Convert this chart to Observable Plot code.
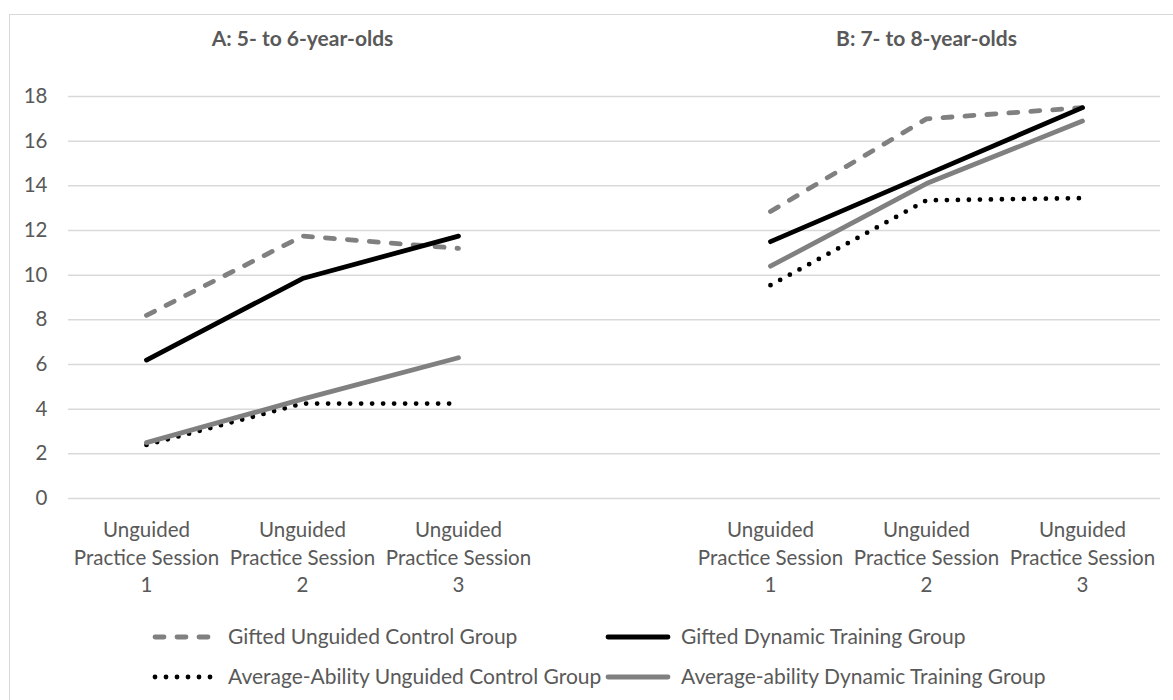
<!DOCTYPE html>
<html>
<head>
<meta charset="utf-8">
<script src="https://cdn.jsdelivr.net/npm/d3@7"></script>
<script src="https://cdn.jsdelivr.net/npm/@observablehq/plot@0.6"></script>
<style>
  html, body { margin: 0; padding: 0; background: #fff; overflow: hidden; }
  #wrap { position: relative; width: 1173px; height: 700px; font-family: Lato, "Open Sans", sans-serif; }
  #frame { position: absolute; left: 9px; top: 14px; width: 1200px; height: 720px; border: 1.5px solid #d9d9d9; box-sizing: border-box; pointer-events: none; }
  #chart, #legend { position: relative; }
</style>
</head>
<body>
<div id="wrap">
  <div id="frame"></div>
  <div id="chart"></div>
  <div id="legend"></div>
</div>
<script>
// ---- data ----
const panelTitles = ["A: 5- to 6-year-olds", "B: 7- to 8-year-olds"];
const panelKeys = ["A", "B"];
const sessionLabels = ["Unguided\nPractice Session\n1", "Unguided\nPractice Session\n2", "Unguided\nPractice Session\n3"];
const categories = ["A1", "A2", "A3", "gap", "B1", "B2", "B3"];
const yTicks = [0, 2, 4, 6, 8, 10, 12, 14, 16, 18];
const seriesNames = [
  "Gifted Unguided Control Group",
  "Gifted Dynamic Training Group",
  "Average-Ability Unguided Control Group",
  "Average-ability Dynamic Training Group"
];
// values per panel, sessions 1..3
const giftedUnguidedA = [8.2, 11.75, 11.2];
const giftedUnguidedB = [12.85, 17.0, 17.5];
const giftedDynamicA = [6.2, 9.85, 11.75];
const giftedDynamicB = [11.5, 14.5, 17.5];
const averageUnguidedA = [2.4, 4.25, 4.25];
const averageUnguidedB = [9.55, 13.35, 13.45];
const averageDynamicA = [2.5, 4.45, 6.3];
const averageDynamicB = [10.4, 14.1, 16.9];

const seriesValues = [
  [giftedUnguidedA, giftedUnguidedB],
  [giftedDynamicA, giftedDynamicB],
  [averageUnguidedA, averageUnguidedB],
  [averageDynamicA, averageDynamicB]
];

// ---- styles ----
const textColor = "#595959";
const gridColor = "#d9d9d9";
const fontFamily = "Lato, 'Open Sans', sans-serif";
const seriesStyles = [
  {stroke: "#808080", strokeWidth: 4.8, strokeDasharray: "9,13", strokeLinecap: "round"},
  {stroke: "#000000", strokeWidth: 4.8, strokeLinecap: "round"},
  {stroke: "#000000", strokeWidth: 4.8, strokeDasharray: "0,11", strokeLinecap: "round"},
  {stroke: "#808080", strokeWidth: 4.8, strokeLinecap: "round"}
];

// ---- table ----
const rows = [];
seriesNames.forEach((name, si) => {
  panelKeys.forEach((pk, pi) => {
    seriesValues[si][pi].forEach((v, k) => {
      rows.push({series: name, si, panel: pk, key: name + "|" + pk, cat: pk + (k + 1), value: v});
    });
  });
});
const tickRows = [];
panelKeys.forEach(pk => sessionLabels.forEach((lab, k) => tickRows.push({cat: pk + (k + 1), label: lab})));
const titleRows = panelKeys.map((pk, i) => ({cat: pk + "2", label: panelTitles[i]}));

const W = 1173, H = 610;
const plot = Plot.plot({
  width: W,
  height: H,
  marginTop: 96,
  marginBottom: 112,
  marginLeft: 68,
  marginRight: 13,
  style: {fontFamily, fontSize: "20px", color: textColor, background: "transparent", overflow: "visible"},
  x: {type: "point", domain: categories, padding: 0.5, axis: null},
  y: {domain: [0, 18], axis: null},
  marks: [
    Plot.gridY(yTicks, {stroke: gridColor, strokeOpacity: 1, strokeWidth: 1.5}),
    Plot.axisY(yTicks, {tickSize: 0, tickPadding: 21, fontSize: 20.5, fill: textColor, label: null}),
    Plot.text(tickRows, {x: "cat", text: "label", frameAnchor: "bottom", lineAnchor: "top", dy: 19, lineHeight: 1.35, fontSize: 20.5, fill: textColor}),
    Plot.text(titleRows, {x: "cat", text: "label", frameAnchor: "top", dy: -65, fontSize: 21, fontWeight: "bold", fill: textColor}),
    ...seriesStyles.map((st, si) =>
      Plot.line(rows.filter(d => d.si === si), {x: "cat", y: "value", z: "key", ...st, strokeLinejoin: "round"})
    )
  ]
});
document.getElementById("chart").appendChild(plot);

// ---- legend ----
const legendItems = [
  {si: 0, x: 153, row: 0},
  {si: 1, x: 606, row: 0},
  {si: 2, x: 153, row: 1},
  {si: 3, x: 606, row: 1}
];
const legend = d3.select("#legend").append("svg")
  .attr("width", W).attr("height", 90)
  .style("display", "block")
  .style("font-family", fontFamily);
legendItems.forEach(it => {
  const st = seriesStyles[it.si];
  const cy = 27 + it.row * 40;
  legend.append("line")
    .attr("x1", it.x + 2).attr("x2", it.x + 62)
    .attr("y1", cy).attr("y2", cy)
    .attr("stroke", st.stroke)
    .attr("stroke-width", st.strokeWidth)
    .attr("stroke-dasharray", st.strokeDasharray || null)
    .attr("stroke-linecap", st.strokeLinecap);
  legend.append("text")
    .attr("x", it.x + 75).attr("y", cy)
    .attr("dy", "0.35em")
    .attr("font-size", 21)
    .attr("fill", textColor)
    .text(seriesNames[it.si]);
});
</script>
</body>
</html>
